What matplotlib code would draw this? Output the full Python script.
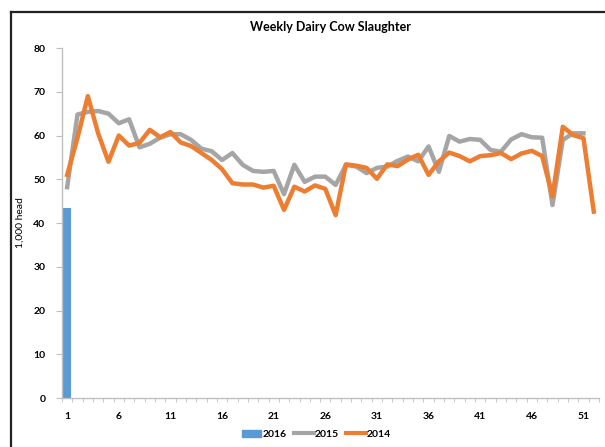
import numpy as np
import matplotlib
matplotlib.use("Agg")
import matplotlib.pyplot as plt
from matplotlib.lines import Line2D

plt.rcParams['font.family'] = ['Lato', 'DejaVu Sans']

# weekly dairy cow slaughter, 1,000 head
weeks_2016 = [1]
vals_2016 = [43.5]

vals_2015 = [48.2, 64.8, 65.4, 65.6, 65.0, 62.8, 63.7, 57.3, 58.1, 59.5,
             60.3, 60.3, 59.0, 57.0, 56.4, 54.4, 56.0, 53.3, 51.9, 51.7,
             51.9, 46.6, 53.3, 49.4, 50.6, 50.6, 48.7, 53.3, 52.9, 51.4,
             52.6, 52.9, 54.2, 55.2, 54.1, 57.5, 51.7, 59.9, 58.6, 59.2,
             59.0, 56.7, 56.3, 59.1, 60.3, 59.6, 59.5, 44.1, 59.0, 60.5,
             60.5]

vals_2014 = [51.0, 59.5, 69.0, 60.5, 54.0, 60.0, 57.7, 58.3, 61.3, 59.6,
             60.8, 58.4, 57.6, 56.0, 54.4, 52.3, 49.1, 48.8, 48.8, 48.1,
             48.5, 43.0, 48.3, 47.2, 48.6, 47.8, 41.8, 53.4, 53.1, 52.6,
             50.1, 53.4, 53.0, 54.5, 55.6, 51.0, 54.1, 56.1, 55.3, 54.1,
             55.3, 55.5, 56.0, 54.6, 55.9, 56.5, 55.3, 46.1, 62.0, 60.1,
             59.4, 42.6]

xlabels = [1, 6, 11, 16, 21, 26, 31, 36, 41, 46, 51]

fig = plt.figure(figsize=(6.05, 4.47), dpi=100)
ax = fig.add_axes([0.1025, 0.1096, 0.8875, 0.783])

ax.bar(weeks_2016, vals_2016, width=0.8, color='#5B9BD5', label='2016', zorder=1)
ax.plot(np.arange(1, len(vals_2015) + 1), vals_2015, color='#A5A5A5',
        lw=3.2, label='2015', zorder=2, solid_joinstyle='round')
ax.plot(np.arange(1, len(vals_2014) + 1), vals_2014, color='#ED7D31',
        lw=3.2, label='2014', zorder=3, solid_joinstyle='round')

ax.set_xlim(0.5, 52.5)
ax.set_ylim(0, 80)
ax.set_yticks(range(0, 81, 10))
ax.set_xticks(xlabels)
ax.set_xticks(np.arange(0.5, 53, 1), minor=True)
ax.tick_params(axis='x', which='major', length=0, pad=10)
ax.tick_params(axis='x', which='minor', length=3, color='#BFBFBF', direction='out')
ax.tick_params(axis='y', length=4, color='#BFBFBF', pad=8)
for lab in ax.get_xticklabels() + ax.get_yticklabels():
    lab.set_fontsize(7.5)
    lab.set_fontweight('bold')

for s in ['top', 'right']:
    ax.spines[s].set_visible(False)
for s in ['left', 'bottom']:
    ax.spines[s].set_color('#BFBFBF')
    ax.spines[s].set_linewidth(1)

ax.set_ylabel('1,000 head', fontsize=7.5, labelpad=6)
ax.set_title('Weekly Dairy Cow Slaughter', fontsize=9, fontweight='bold', pad=12)

handles = [plt.Rectangle((0, 0), 1, 1, color='#5B9BD5'),
           Line2D([], [], color='#A5A5A5', lw=3),
           Line2D([], [], color='#ED7D31', lw=3)]
fig.legend(handles, ['2016', '2015', '2014'], loc='center',
           bbox_to_anchor=(0.523, 0.028), ncol=3, frameon=False,
           prop={'size': 7.5, 'weight': 'bold'}, handlelength=1.9,
           handletextpad=0.1, columnspacing=0.7)

# page frame around the chart
fig.add_artist(Line2D([0.0185, 0.0185], [0, 0.974], color='#222222', lw=1.6))
fig.add_artist(Line2D([0.0185, 1], [0.974, 0.974], color='#222222', lw=1.6))

fig.savefig('out.png', dpi=100)
